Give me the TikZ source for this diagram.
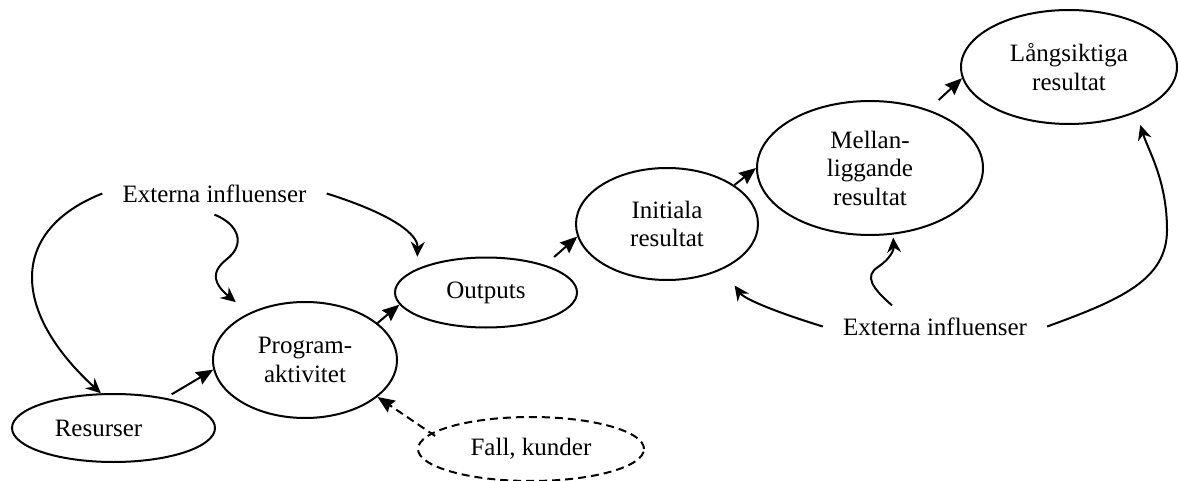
\documentclass[tikz,border=0pt]{standalone}
\usepackage{fontspec}
\setmainfont{Liberation Serif}
\usetikzlibrary{shapes.geometric,arrows.meta}
\begin{document}
\begin{tikzpicture}[x=1pt,y=-1pt,
  every node/.style={font=\fontsize{25}{28.5}\selectfont},
  blob/.style={ellipse, draw, line width=2pt, inner sep=0pt, align=center},
  ext/.style={inner xsep=20pt, inner ysep=12pt},
  link/.style={line width=2pt, -{Stealth[length=17pt,width=14pt,inset=2pt]}},
  swoop/.style={line width=2pt, -{Stealth[length=15pt,width=14pt,inset=5pt]}},
]
\useasboundingbox (0,0) rectangle (1178,481);

% outcome chain
\node[blob, minimum width=203pt, minimum height=68pt]  (res)  at (113.5,428) {\hspace*{-30pt}Resurser};
\node[blob, minimum width=184pt, minimum height=116pt] (prog) at (305,360)   {Program-\\aktivitet};
\node[blob, minimum width=182pt, minimum height=70pt]  (out)  at (486,292.5) {Outputs};
\node[blob, minimum width=182pt, minimum height=112pt] (ini)  at (667,224)   {Initiala\\resultat};
\node[blob, minimum width=226pt, minimum height=134pt] (mel)  at (870,168)   {Mellan-\\liggande\\resultat};
\node[blob, minimum width=216pt, minimum height=114pt] (lang) at (1069,67)   {Långsiktiga\\resultat};
\node[blob, dash pattern=on 8pt off 5pt, minimum width=226pt, minimum height=64pt] (fall) at (531,449) {Fall, kunder};

% external influences
\node[ext] (ext1) at (214.5,193.5) {Externa influenser};
\node[ext] (ext2) at (935,326.5)   {Externa influenser};

% main flow
\draw[link, shorten <=7pt]  (res.30) -- (prog.186);
\draw[link]                 (prog.27) -- (out.188);
\draw[link, shorten <=12pt] (out.25) -- (ini.188);
\draw[link]                 (ini.30) -- (mel.west);
\draw[link, shorten <=14pt] (mel.45) -- (lang.186);
\draw[link, dash pattern=on 8pt off 5pt, shorten <=-5pt] (fall.171) -- (prog.333);

% influences, upper left
\draw[swoop] (ext1.west) .. controls (10,230) and (10,310) .. (res.110);
\draw[swoop, shorten >=17pt] (ext1.south) .. controls (240,225) and (245,245) .. (227,259)
  .. controls (209,273) and (215,285) .. (prog.140);
\draw[swoop, shorten >=12pt] (ext1.east) .. controls (395,215) and (418,235) .. (out.161);

% influences, lower right
\draw[swoop, shorten >=20pt] (ext2.west) .. controls (785,315) and (745,300) .. (ini.321);
\draw[swoop, shorten >=3pt] ([xshift=-43pt]ext2.north) .. controls (872,288) and (864,276) .. (878,267)
  .. controls (890,259) and (894,250) .. (mel.289);
\draw[swoop, shorten >=13pt] (ext2.east) .. controls (1120,300) and (1167,280) .. (1167,230)
  .. controls (1167,180) and (1148,150) .. (lang.326);
\end{tikzpicture}
\end{document}
